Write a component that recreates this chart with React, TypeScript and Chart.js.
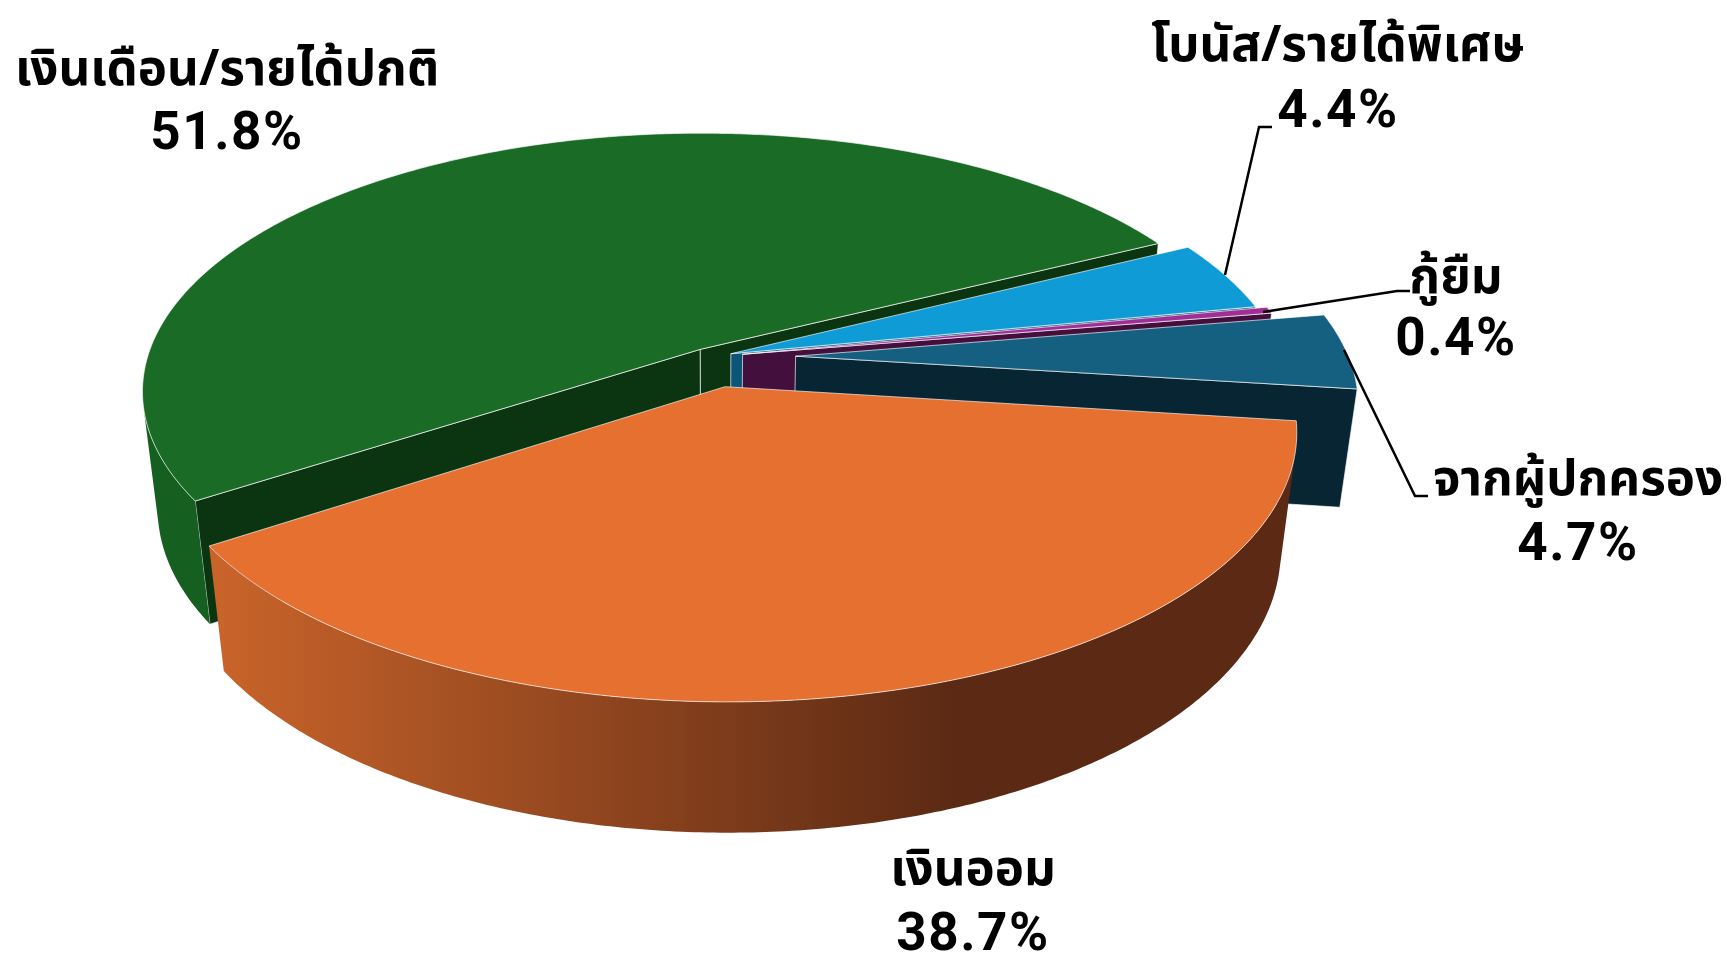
import React, { useEffect, useRef } from "react";
import { Chart, registerables } from "chart.js";

Chart.register(...registerables);

const categories = ["เงินเดือน/รายได้ปกติ", "โบนัส/รายได้พิเศษ", "กู้ยืม", "จากผู้ปกครอง", "เงินออม"];
const percents = [51.8, 4.4, 0.4, 4.7, 38.7];
const explode = [0.035, 0.04, 0.06, 0.155, 0.118];
const topColors = ["#1a6b25", "#0f9cd6", "#a12e96", "#156080", "#e67030"];
const cutColors = ["#0b3410", "#0d5578", "#43103e", "#082534", "#5c2a14"];
const rimColors = ["#155f20", "#0d6f9a", "#6d1f66", "#0f4560", "#5c2a14"];

const VIEW = { kx: 1.549, ky: 0.71, p: 0.162, q: 0.027, depth: 120 };
const NAME_FONT = '700 49.3px "Noto Sans Thai", "Noto Sans", Roboto, sans-serif';
const VALUE_FONT = '700 53px Roboto, "Noto Sans", sans-serif';
const labelLayout = [
  { x: 227, y1: 85, y2: 149 },
  { x: 1338, y1: 61, y2: 127 },
  { x: 1456, y1: 293, y2: 355 },
  { x: 1578, y1: 495, y2: 560 },
  { x: 973, y1: 885, y2: 950 },
];
const leaderLayout: (number[][] | null)[] = [
  null,
  [[1225, 275], [1259, 127], [1272, 127]],
  [[1263, 312], [1397, 291], [1410, 291]],
  [[1344, 350], [1415, 496], [1428, 496]],
  null,
];

type P = [number, number];

const pie3d = {
  id: "pie3d",
  beforeDatasetsDraw(chart: any) {
    const ctx: CanvasRenderingContext2D = chart.ctx;
    const arcs = chart.getDatasetMeta(0).data;
    arcs.forEach((el: any, i: number) => {
      const A = el.outerRadius * VIEW.kx;
      const B = el.outerRadius * VIEW.ky;
      const proj = (u: number, v: number, h: number): P => {
        const w = 1 - VIEW.p * v + VIEW.q * h;
        return [el.x + (A * u) / w, el.y + (B * v + VIEW.depth * h) / w];
      };
      const mid = (el.startAngle + el.endAngle) / 2;
      const u0 = explode[i] * Math.cos(mid);
      const v0 = explode[i] * Math.sin(mid);
      const steps = Math.max(2, Math.ceil((el.endAngle - el.startAngle) / 0.01));
      const ring: [number, number][] = [];
      for (let s = 0; s <= steps; s++) {
        const t = el.startAngle + ((el.endAngle - el.startAngle) * s) / steps;
        ring.push([u0 + Math.cos(t), v0 + Math.sin(t)]);
      }
      const fill = (pts: P[], style: any, stroke: boolean) => {
        ctx.beginPath();
        pts.forEach((p, k) => (k ? ctx.lineTo(p[0], p[1]) : ctx.moveTo(p[0], p[1])));
        ctx.closePath();
        ctx.fillStyle = style;
        ctx.fill();
        if (stroke) {
          ctx.strokeStyle = "rgba(255,255,255,0.65)";
          ctx.lineWidth = 1;
          ctx.stroke();
        }
      };
      const area = (a: [number, number], b: [number, number]) => {
        const q = [proj(a[0], a[1], 0), proj(b[0], b[1], 0), proj(b[0], b[1], 1), proj(a[0], a[1], 1)];
        let sum = 0;
        q.forEach((c, k) => {
          const d = q[(k + 1) % 4];
          sum += c[0] * d[1] - d[0] * c[1];
        });
        return sum;
      };
      const wall = (a: [number, number], b: [number, number]) => {
        if (area(a, b) < 0) {
          fill(
            [proj(a[0], a[1], 0), proj(b[0], b[1], 0), proj(b[0], b[1], 1), proj(a[0], a[1], 1)],
            cutColors[i],
            true,
          );
        }
      };
      const apex: [number, number] = [u0, v0];
      wall(apex, ring[0]);
      wall(ring[ring.length - 1], apex);
      let first = -1;
      let last = -1;
      for (let s = 0; s < ring.length - 1; s++) {
        if (area(ring[s], ring[s + 1]) < 0) {
          if (first < 0) first = s;
          last = s + 1;
        }
      }
      if (first >= 0) {
        const band: P[] = [];
        for (let s = first; s <= last; s++) band.push(proj(ring[s][0], ring[s][1], 0));
        for (let s = last; s >= first; s--) band.push(proj(ring[s][0], ring[s][1], 1));
        let style: any = rimColors[i];
        if (i === 4) {
          const g = ctx.createLinearGradient(222, 0, 950, 0);
          g.addColorStop(0, "#c8632a");
          g.addColorStop(1, "#5c2a14");
          style = g;
        }
        fill(band, style, false);
      }
      const top: P[] = [proj(u0, v0, 0), ...ring.map((r) => proj(r[0], r[1], 0))];
      fill(top, topColors[i], true);
    });
    return false;
  },
  afterDraw(chart: any) {
    const ctx: any = chart.ctx;
    ctx.save();
    ctx.strokeStyle = "#000";
    ctx.lineWidth = 2.5;
    leaderLayout.forEach((line) => {
      if (!line) return;
      ctx.beginPath();
      line.forEach((p, k) => (k ? ctx.lineTo(p[0], p[1]) : ctx.moveTo(p[0], p[1])));
      ctx.stroke();
    });
    ctx.fillStyle = "#000";
    ctx.textAlign = "center";
    ctx.textBaseline = "alphabetic";
    categories.forEach((name, i) => {
      const l = labelLayout[i];
      ctx.font = NAME_FONT;
      ctx.letterSpacing = "0px";
      ctx.fillText(name, l.x, l.y1);
      ctx.font = VALUE_FONT;
      ctx.letterSpacing = "1.5px";
      ctx.fillText(percents[i].toFixed(1) + "%", l.x, l.y2);
    });
    ctx.restore();
  },
};

export default function App() {
  const ref = useRef<HTMLCanvasElement>(null);
  useEffect(() => {
    const chart = new Chart(ref.current!, {
      type: "pie",
      data: {
        labels: categories,
        datasets: [{ data: percents, backgroundColor: topColors, borderWidth: 0 }],
      },
      options: {
        animation: false,
        responsive: false,
        rotation: 236.6,
        layout: { padding: { left: 0, top: 0, right: 307, bottom: 242 } },
        plugins: { legend: { display: false }, tooltip: { enabled: false } },
      },
      plugins: [pie3d],
    } as any);
    return () => chart.destroy();
  }, []);
  return (
    <canvas
      ref={ref}
      width={1727}
      height={956}
      style={{ position: "absolute", left: 0, top: 0, width: 1727, height: 956, background: "#fff" }}
    />
  );
}
